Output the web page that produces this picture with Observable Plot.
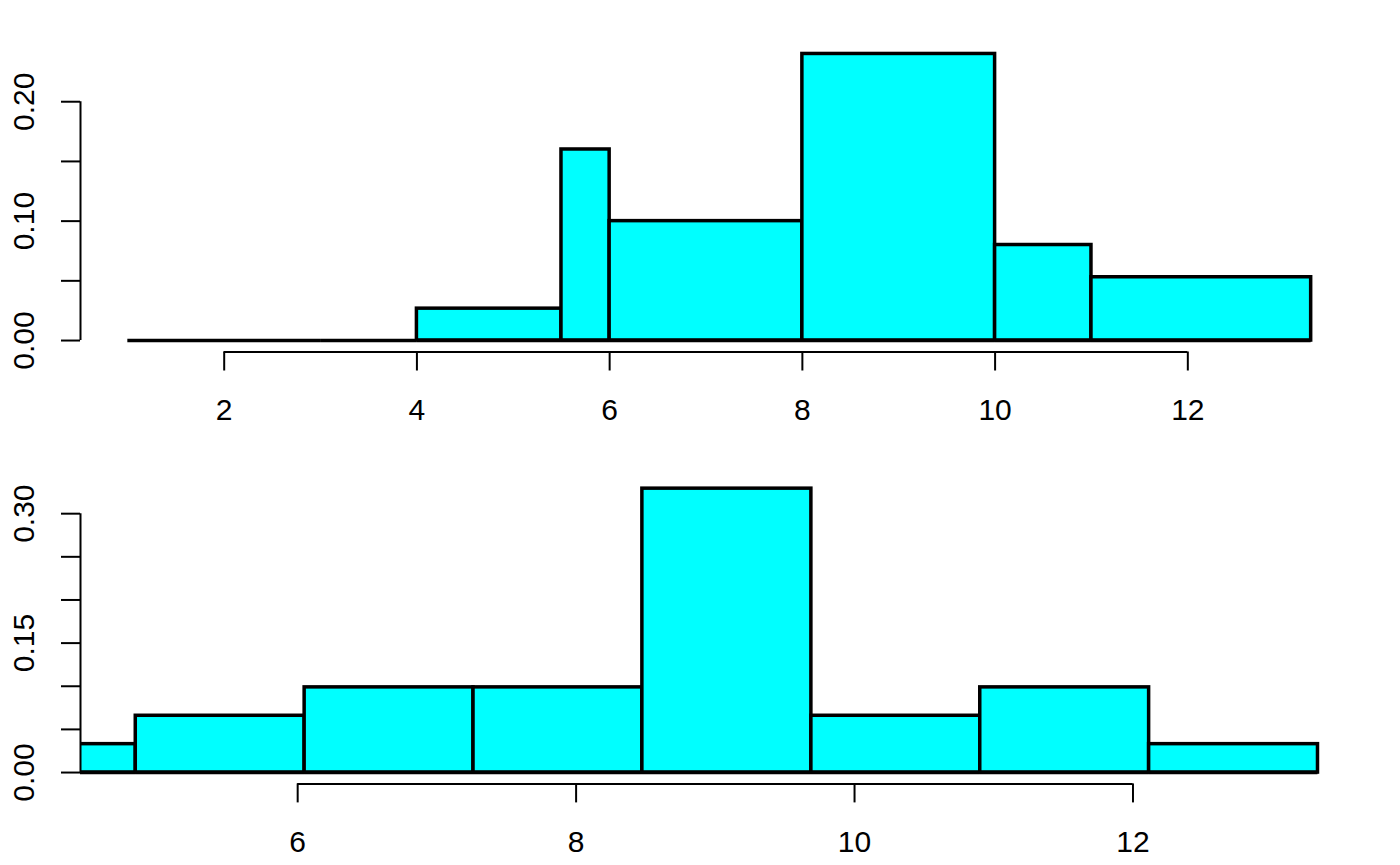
<!DOCTYPE html>
<html>
<head>
<meta charset="utf-8">
<script src="https://cdn.jsdelivr.net/npm/d3@7"></script>
<script src="https://cdn.jsdelivr.net/npm/@observablehq/plot@0.6"></script>
<style>
  html, body { margin: 0; padding: 0; background: #fff; }
  #chart svg { display: block; }
</style>
</head>
<body>
<div id="chart"></div>
<script>
// ---- Top histogram (unequal breaks, density scale) ----
const topBreaks = [1, 3, 4, 5.5, 6, 8, 10, 11, 13.28];
const topDensity = [0, 0, 0.0267, 0.16, 0.10, 0.24, 0.08, 0.053];
const topXTicks = [2, 4, 6, 8, 10, 12];
const topYTicks = [0, 0.05, 0.10, 0.15, 0.20];
const topYLabels = [0, 0.10, 0.20];

// ---- Bottom histogram (equal-width breaks, x-limits cut the first bin) ----
const botBreaks = [3.623, 4.837, 6.05, 7.263, 8.476, 9.69, 10.903, 12.116, 13.329];
const botDensity = [0.0329, 0.0658, 0.0987, 0.0987, 0.329, 0.0658, 0.0987, 0.0329];
const botXLim = [4.44, 13.62];
const botXTicks = [6, 8, 10, 12];
const botYTicks = [0, 0.05, 0.10, 0.15, 0.20, 0.25, 0.30];
const botYLabels = [0, 0.15, 0.30];

const FONT = "'Liberation Sans', Arial, Helvetica, sans-serif";
const FILL = "#00FFFF";
const FS = 30;

function bins(breaks, density) {
  return density.map((d, i) => ({x1: breaks[i], x2: breaks[i + 1], y: d}));
}

function panel({data, xDomain, yDomain, xTicks, yTicks, yLabels, height, marginTop, marginBottom}) {
  return Plot.plot({
    width: 1400,
    height,
    marginLeft: 80,
    marginRight: 42,
    marginTop,
    marginBottom,
    style: {fontFamily: FONT, fontSize: FS + "px", background: "#fff", color: "#000"},
    x: {domain: xDomain, label: null},
    y: {domain: yDomain, label: null},
    marks: [
      Plot.rectY(data, {x1: "x1", x2: "x2", y1: 0, y2: "y", fill: FILL, stroke: "#000", strokeWidth: 3.5, clip: true}),
      Plot.ruleY(data, {x1: "x1", x2: "x2", y: 0, stroke: "#000", strokeWidth: 3.5, clip: true}),
      // x axis (R style: line from first to last tick)
      Plot.ruleY([yDomain[0]], {x1: xTicks[0], x2: xTicks[xTicks.length - 1], stroke: "#000", strokeWidth: 2}),
      Plot.axisX({ticks: xTicks, tickSize: 19, tickPadding: 28, fontSize: FS, strokeWidth: 2, label: null, tickFormat: d => String(d)}),
      // y axis
      Plot.ruleX([xDomain[0]], {y1: yTicks[0], y2: yTicks[yTicks.length - 1], stroke: "#000", strokeWidth: 2}),
      Plot.axisY({ticks: yTicks, tickSize: 19, strokeWidth: 2, label: null, tickFormat: () => ""}),
      Plot.text(yLabels, {y: d => d, text: d => d.toFixed(2), frameAnchor: "left", dx: -56, rotate: -90,
        textAnchor: "middle", lineAnchor: "middle", fontSize: FS, fill: "#000"})
    ]
  });
}

const topMax = d3.max(topDensity);
const topSpan = topBreaks[topBreaks.length - 1] - topBreaks[0];
const topPlot = panel({
  data: bins(topBreaks, topDensity),
  xDomain: [topBreaks[0] - 0.04 * topSpan, topBreaks[topBreaks.length - 1] + 0.04 * topSpan],
  yDomain: [-0.04 * topMax, 1.04 * topMax],
  xTicks: topXTicks, yTicks: topYTicks, yLabels: topYLabels,
  height: 432, marginTop: 42, marginBottom: 80.5
});

const botMax = d3.max(botDensity);
const botPlot = panel({
  data: bins(botBreaks, botDensity),
  xDomain: botXLim,
  yDomain: [-0.04 * botMax, 1.04 * botMax],
  xTicks: botXTicks, yTicks: botYTicks, yLabels: botYLabels,
  height: 433, marginTop: 44.8, marginBottom: 81.6
});

const chart = document.getElementById("chart");
chart.appendChild(topPlot);
chart.appendChild(botPlot);
</script>
</body>
</html>
